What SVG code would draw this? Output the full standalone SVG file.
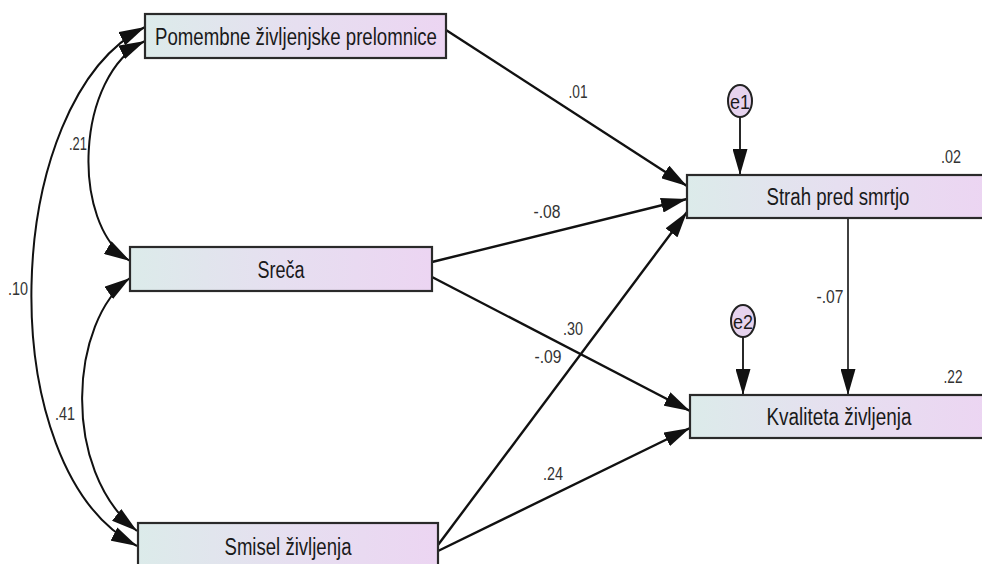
<svg xmlns="http://www.w3.org/2000/svg" width="982" height="564" viewBox="0 0 982 564">
  <style>
    .box { stroke: #2a2a2a; stroke-width: 2.2; fill: url(#boxFill); }
    .err { stroke: #222; stroke-width: 2; fill: #e6d3ee; }
    .lbl { font-family: "Liberation Sans", Arial, sans-serif; font-size: 23px; fill: #1a1a1a; text-anchor: middle; }
    .elbl { font-family: "Liberation Sans", Arial, sans-serif; font-size: 21px; fill: #1a1a1a; text-anchor: middle; }
    .coef { font-family: "Liberation Sans", Arial, sans-serif; font-size: 18px; fill: #333; text-anchor: middle; }
    .path { stroke: #111; stroke-width: 2.4; fill: none; marker-end: url(#head); }
    .cov { stroke: #111; stroke-width: 2; fill: none; marker-start: url(#head); marker-end: url(#head); }
  </style>
  <defs>
    <linearGradient id="boxFill" x1="0" y1="0" x2="1" y2="0">
      <stop offset="0" stop-color="#dcebea"/>
      <stop offset="0.5" stop-color="#e6dff0"/>
      <stop offset="1" stop-color="#ecd5f2"/>
    </linearGradient>
    <marker id="head" viewBox="0 0 26 15" refX="26" refY="7.5" markerWidth="26" markerHeight="15" markerUnits="userSpaceOnUse" orient="auto-start-reverse">
      <path d="M0,0 L26,7.5 L0,15 Z" fill="#111"/>
    </marker>
  </defs>

  <!-- regression paths and covariances -->
  <g id="connectors">
    <path class="path" d="M446,30 L687,186"/>
    <path class="path" d="M432,262 L687,199"/>
    <path class="path" d="M432,277 L690,411"/>
    <path class="path" d="M438,545 L687,212"/>
    <path class="path" d="M438,551 L690,428"/>
    <path class="path" d="M848,218 L848,395" style="stroke-width:1.6"/>
    <path class="path" d="M740,117 L740,175" style="stroke-width:1.8"/>
    <path class="path" d="M743,337 L743,395" style="stroke-width:1.8"/>
    <path class="cov" d="M145,41 C75,75 70,225 130,261"/>
    <path class="cov" d="M145,27 C0,100 -10,470 137,546"/>
    <path class="cov" d="M130,278 C70,320 60,470 137,531"/>
  </g>

  <!-- coefficients -->
  <g id="coefficients">
    <text class="coef" x="578" y="98" textLength="19" lengthAdjust="spacingAndGlyphs">.01</text>
    <text class="coef" x="547" y="218" textLength="27" lengthAdjust="spacingAndGlyphs">-.08</text>
    <text class="coef" x="573" y="335" textLength="20" lengthAdjust="spacingAndGlyphs">.30</text>
    <text class="coef" x="548" y="363" textLength="27" lengthAdjust="spacingAndGlyphs">-.09</text>
    <text class="coef" x="553" y="480" textLength="20" lengthAdjust="spacingAndGlyphs">.24</text>
    <text class="coef" x="830" y="303" textLength="27" lengthAdjust="spacingAndGlyphs">-.07</text>
    <text class="coef" x="951" y="163" textLength="20" lengthAdjust="spacingAndGlyphs">.02</text>
    <text class="coef" x="953" y="383" textLength="19" lengthAdjust="spacingAndGlyphs">.22</text>
    <text class="coef" x="78" y="150" textLength="18" lengthAdjust="spacingAndGlyphs">.21</text>
    <text class="coef" x="18" y="295" textLength="20" lengthAdjust="spacingAndGlyphs">.10</text>
    <text class="coef" x="65" y="420" textLength="20" lengthAdjust="spacingAndGlyphs">.41</text>
  </g>

  <g id="pomembne">
    <rect class="box" x="145" y="14" width="301" height="44"/>
    <text class="lbl" x="296" y="45" textLength="282" lengthAdjust="spacingAndGlyphs">Pomembne življenjske prelomnice</text>
  </g>
  <g id="sreca">
    <rect class="box" x="130" y="247" width="302" height="44"/>
    <text class="lbl" x="281" y="278" textLength="47" lengthAdjust="spacingAndGlyphs">Sreča</text>
  </g>
  <g id="smisel">
    <rect class="box" x="138" y="523" width="300" height="52"/>
    <text class="lbl" x="288" y="555" textLength="127" lengthAdjust="spacingAndGlyphs">Smisel življenja</text>
  </g>
  <g id="strah">
    <rect class="box" x="687" y="175" width="300" height="43"/>
    <text class="lbl" x="838" y="205" textLength="143" lengthAdjust="spacingAndGlyphs">Strah pred smrtjo</text>
  </g>
  <g id="kvaliteta">
    <rect class="box" x="690" y="395" width="300" height="43"/>
    <text class="lbl" x="839" y="425" textLength="145" lengthAdjust="spacingAndGlyphs">Kvaliteta življenja</text>
  </g>
  <g id="e1">
    <ellipse class="err" cx="740" cy="101" rx="12" ry="16"/>
    <text class="elbl" x="740" y="109" textLength="20" lengthAdjust="spacingAndGlyphs">e1</text>
  </g>
  <g id="e2">
    <ellipse class="err" cx="743" cy="321" rx="12" ry="16"/>
    <text class="elbl" x="743" y="329" textLength="20" lengthAdjust="spacingAndGlyphs">e2</text>
  </g>
</svg>
